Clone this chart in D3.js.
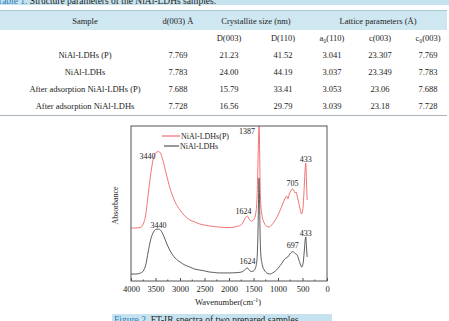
<!DOCTYPE html>
<html>
<head>
<meta charset="utf-8">
<script src="https://cdn.jsdelivr.net/npm/d3@7"></script>
<style>
  body { margin: 0; background: #fff; }
  svg { display: block; font-family: "Liberation Serif", "Times New Roman", serif; }
</style>
</head>
<body>
<div id="chart"></div>
<script>
// table data
const tableHead = ["Sample", "d(003) Å", "Crystallite size (nm)", "Lattice parameters (Å)"];
const subHead = ["D(003)", "D(110)", "a₀(110)", "c(003)", "c₀(003)"];
const samples = ["NiAl-LDHs (P)", "NiAl-LDHs", "After adsorption NiAl-LDHs (P)", "After adsorption NiAl-LDHs"];
const tableRows = [
    ["7.769", "21.23", "41.52", "3.041", "23.307", "7.769"],
    ["7.783", "24.00", "44.19", "3.037", "23.349", "7.783"],
    ["7.688", "15.79", "33.41", "3.053", "23.06", "7.688"],
    ["7.728", "16.56", "29.79", "3.039", "23.18", "7.728"]
];

// spectra
const waveP = [4000, 3900, 3800, 3750, 3700, 3650, 3600, 3550, 3500, 3440, 3400, 3350, 3300, 3250, 3200, 3150, 3100, 3000, 2900, 2800, 2700, 2600, 2500, 2400, 2200, 2000, 1800, 1720, 1670, 1624, 1590, 1540, 1500, 1460, 1430, 1410, 1395, 1387, 1378, 1365, 1350, 1320, 1280, 1230, 1180, 1130, 1080, 1030, 980, 930, 880, 840, 820, 800, 770, 740, 705, 680, 650, 630, 610, 580, 545, 520, 495, 470, 450, 433, 420, 405];
const absP = [0.342, 0.342, 0.348, 0.368, 0.426, 0.555, 0.684, 0.781, 0.826, 0.835, 0.826, 0.781, 0.716, 0.652, 0.594, 0.548, 0.51, 0.458, 0.419, 0.394, 0.381, 0.368, 0.361, 0.355, 0.348, 0.345, 0.355, 0.374, 0.406, 0.419, 0.4, 0.387, 0.394, 0.426, 0.523, 0.748, 0.942, 1.0, 0.91, 0.619, 0.49, 0.413, 0.374, 0.352, 0.348, 0.361, 0.381, 0.406, 0.439, 0.477, 0.516, 0.542, 0.548, 0.529, 0.561, 0.581, 0.594, 0.587, 0.568, 0.574, 0.548, 0.51, 0.458, 0.432, 0.458, 0.574, 0.703, 0.761, 0.652, 0.523];
const waveN = [4000, 3900, 3800, 3750, 3700, 3650, 3600, 3550, 3500, 3440, 3400, 3350, 3300, 3250, 3200, 3150, 3100, 3000, 2900, 2800, 2700, 2600, 2500, 2400, 2300, 2200, 2000, 1800, 1700, 1650, 1624, 1590, 1540, 1500, 1460, 1430, 1410, 1395, 1387, 1378, 1365, 1350, 1320, 1280, 1230, 1180, 1130, 1080, 1030, 980, 930, 880, 840, 800, 760, 720, 697, 670, 640, 610, 580, 545, 515, 490, 465, 445, 433, 420, 405];
const absN = [0.045, 0.045, 0.052, 0.065, 0.103, 0.187, 0.265, 0.31, 0.332, 0.335, 0.329, 0.303, 0.265, 0.226, 0.194, 0.168, 0.148, 0.123, 0.103, 0.09, 0.077, 0.071, 0.065, 0.058, 0.055, 0.052, 0.052, 0.055, 0.065, 0.081, 0.084, 0.071, 0.061, 0.065, 0.084, 0.135, 0.297, 0.555, 0.665, 0.555, 0.297, 0.168, 0.103, 0.071, 0.052, 0.045, 0.048, 0.058, 0.071, 0.09, 0.11, 0.135, 0.148, 0.155, 0.174, 0.187, 0.19, 0.184, 0.174, 0.168, 0.142, 0.11, 0.09, 0.11, 0.187, 0.265, 0.284, 0.226, 0.155];
const xTicks = [4000, 3500, 3000, 2500, 2000, 1500, 1000, 500, 0];

// peak labels: [text, wavenumber, absorbance where the label sits]
const labelsP = [["3440", 3440, 0.787], ["1624", 1624, 0.432], ["1387", 1387, 0.948], ["705", 705, 0.613], ["433", 433, 0.768]];
const labelsN = [["3440", 3440, 0.342], ["1624", 1624, 0.11], ["697", 697, 0.213], ["433", 433, 0.29]];

const width = 449, height = 321;
const svg = d3.select("#chart").append("svg")
    .attr("width", width)
    .attr("height", height);

// ---- table ----
svg.append("rect").attr("x", 0).attr("y", 0).attr("width", width).attr("height", 5).attr("fill", "#c6e2ee");
const cap = svg.append("text").attr("x", -3).attr("y", 4).attr("font-size", "9.5px");
cap.append("tspan").attr("fill", "#2a7cb8").text("Table 1. ");
cap.append("tspan").attr("fill", "#222").text("Structure parameters of the NiAl-LDHs samples.");

svg.append("rect").attr("x", 0).attr("y", 10).attr("width", 447).attr("height", 20).attr("fill", "#cfe7f1");
svg.append("line").attr("x1", 0).attr("x2", 447).attr("y1", 10.5).attr("y2", 10.5).attr("stroke", "#a9c9d6");
svg.append("line").attr("x1", 0).attr("x2", 447).attr("y1", 115.5).attr("y2", 115.5).attr("stroke", "#aab4ba");

const headX = [85, 178, 256, 378];
const subX = [229, 283, 332, 380, 428];
const colX = [178, 229, 283, 332, 380, 428];

svg.selectAll("text.head").data(tableHead).enter().append("text")
    .attr("class", "head")
    .attr("x", (d, i) => headX[i]).attr("y", 23.5)
    .attr("text-anchor", "middle").attr("font-size", "8.5px").attr("fill", "#222")
    .text(d => d);

svg.selectAll("text.sub").data(subHead).enter().append("text")
    .attr("class", "sub")
    .attr("x", (d, i) => subX[i]).attr("y", 40.5)
    .attr("text-anchor", "middle").attr("font-size", "8.5px").attr("fill", "#222")
    .text(d => d);

const rowY = d3.scaleLinear().domain([0, 3]).range([57.5, 108.5]);
samples.forEach((s, r) => {
    svg.append("text").attr("x", 85).attr("y", rowY(r))
        .attr("text-anchor", "middle").attr("font-size", "8.5px").attr("fill", "#222").text(s);
    svg.selectAll(null).data(tableRows[r]).enter().append("text")
        .attr("x", (d, i) => colX[i]).attr("y", rowY(r))
        .attr("text-anchor", "middle").attr("font-size", "8.5px").attr("fill", "#222")
        .text(d => d);
});

// ---- chart ----
const plotLeft = 131, plotRight = 327, plotTop = 126, plotBottom = 281;
const x = d3.scaleLinear().domain([4000, 0]).range([plotLeft, plotRight]);
const y = d3.scaleLinear().domain([0, 1]).range([plotBottom, plotTop]);

const g = svg.append("g");
const xAxis = d3.axisBottom(x).tickValues(xTicks).tickSize(-3).tickPadding(5).tickFormat(d3.format("d"));
const ax = g.append("g").attr("transform", `translate(0,${plotBottom})`).call(xAxis);
ax.select(".domain").remove();
ax.selectAll("line").attr("stroke", "#555");
ax.selectAll("text").attr("font-size", "8.5px").attr("fill", "#222").attr("font-family", "Liberation Serif, serif");

g.selectAll("line.minor").data(d3.range(3750, 0, -500)).enter().append("line")
    .attr("x1", d => x(d)).attr("x2", d => x(d))
    .attr("y1", plotBottom).attr("y2", plotBottom - 1.5).attr("stroke", "#555");

const line = d3.line().x(d => x(d[0])).y(d => y(d[1])).curve(d3.curveMonotoneX);

g.append("path").datum(d3.zip(waveN, absN))
    .attr("d", line).attr("fill", "none").attr("stroke", "#333").attr("stroke-width", 0.8);
g.append("path").datum(d3.zip(waveP, absP))
    .attr("d", line).attr("fill", "none").attr("stroke", "#f05050").attr("stroke-width", 0.8);

g.append("rect").attr("x", plotLeft).attr("y", plotTop)
    .attr("width", plotRight - plotLeft).attr("height", plotBottom - plotTop)
    .attr("fill", "none").attr("stroke", "#555").attr("stroke-width", 1);

// small nudges so labels sit beside their peaks like in the figure
const labelShift = { "1387": -12, "3440P": -11, "1624P": -4 };
function peakLabel(data, tag) {
    g.selectAll(null).data(data).enter().append("text")
        .attr("x", d => x(d[1]) + (labelShift[d[0]] || 0) + (labelShift[d[0] + tag] || 0))
        .attr("y", d => y(d[2]))
        .attr("text-anchor", "middle").attr("font-size", "8px").attr("fill", "#222")
        .text(d => d[0]);
}
peakLabel(labelsP, "P");
peakLabel(labelsN, "N");

// legend
g.append("line").attr("x1", 162).attr("x2", 180).attr("y1", 136).attr("y2", 136).attr("stroke", "#f05050");
g.append("text").attr("x", 181).attr("y", 139).attr("font-size", "8px").attr("fill", "#222").text("NiAl-LDHs(P)");
g.append("line").attr("x1", 164).attr("x2", 179).attr("y1", 146).attr("y2", 146).attr("stroke", "#333");
g.append("text").attr("x", 180).attr("y", 149).attr("font-size", "8px").attr("fill", "#222").text("NiAl-LDHs");

g.append("text").attr("transform", `translate(118,${(plotTop + plotBottom) / 2 + 2}) rotate(-90)`)
    .attr("text-anchor", "middle").attr("font-size", "8px").attr("fill", "#222").text("Absorbance");

const xt = g.append("text").attr("x", 228).attr("y", 305).attr("text-anchor", "middle").attr("font-size", "8.5px").attr("fill", "#222");
xt.append("tspan").text("Wavenumber(cm");
xt.append("tspan").attr("font-size", "6px").attr("dy", -3).text("-1");
xt.append("tspan").attr("dy", 3).text(")");

// figure caption
svg.append("rect").attr("x", 112).attr("y", 314).attr("width", 220).attr("height", 8).attr("fill", "#c6e2ee");
const fc = svg.append("text").attr("x", 114).attr("y", 323).attr("font-size", "9.5px");
fc.append("tspan").attr("fill", "#2a7cb8").text("Figure 2. ");
fc.append("tspan").attr("fill", "#222").text("FT-IR spectra of two prepared samples.");
</script>
</body>
</html>
